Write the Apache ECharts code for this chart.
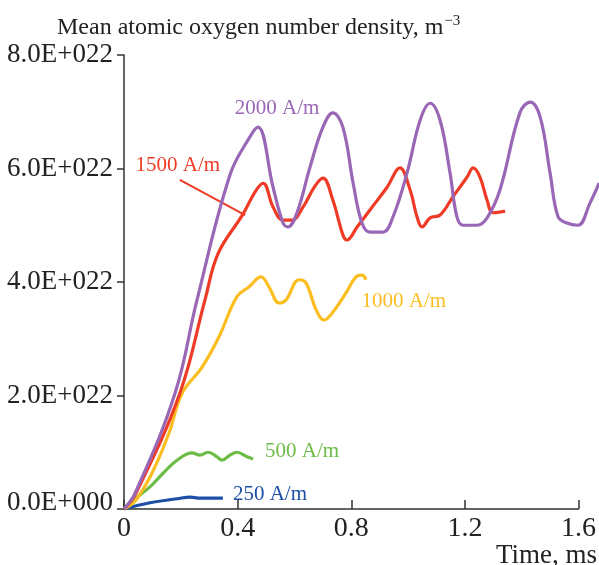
<!DOCTYPE html>
<html>
<head>
<meta charset="utf-8">
<script src="https://cdn.jsdelivr.net/npm/echarts@6/dist/echarts.min.js"></script>
<style>
  html, body { margin: 0; padding: 0; background: #fff; }
  #chart { width: 599px; height: 565px; }
</style>
</head>
<body>
<div id="chart"></div>
<script>
// Time in ms, density in units of 1e22 m^-3
const t250 = [0, 0.091, 0.186, 0.232, 0.267, 0.347];
const n250 = [0, 0.11, 0.18, 0.21, 0.19, 0.19];

const t500 = [0, 0.021, 0.091, 0.137, 0.186, 0.239, 0.267, 0.295, 0.326, 0.344, 0.372, 0.396, 0.432, 0.453];
const n500 = [0, 0.11, 0.39, 0.63, 0.86, 0.99, 0.95, 1.00, 0.92, 0.86, 0.95, 1.00, 0.92, 0.88];

const t1000 = [0, 0.042, 0.098, 0.158, 0.204, 0.274, 0.333, 0.396, 0.438, 0.481, 0.509, 0.544, 0.568, 0.614, 0.639, 0.674, 0.702, 0.730, 0.779, 0.814, 0.835, 0.849];
const n1000 = [0, 0.16, 0.63, 1.34, 2.04, 2.50, 3.03, 3.74, 3.91, 4.09, 3.91, 3.63, 3.68, 4.04, 3.98, 3.51, 3.33, 3.45, 3.81, 4.09, 4.12, 4.04];

const t1500 = [0, 0.042, 0.196, 0.284, 0.33, 0.418, 0.46, 0.488, 0.523, 0.558, 0.589, 0.628, 0.67, 0.698, 0.733, 0.768, 0.782, 0.818, 0.863, 0.923, 0.968, 1.004, 1.028, 1.046, 1.074, 1.109, 1.154, 1.204, 1.225, 1.249, 1.274, 1.295, 1.337];
const n1500 = [0, 0.28, 2.04, 3.68, 4.50, 5.20, 5.59, 5.74, 5.32, 5.09, 5.09, 5.32, 5.69, 5.83, 5.44, 4.83, 4.74, 4.97, 5.27, 5.67, 6.01, 5.62, 5.15, 4.97, 5.13, 5.18, 5.50, 5.85, 6.01, 5.85, 5.44, 5.22, 5.25];

const t2000 = [0, 0.039, 0.179, 0.256, 0.372, 0.442, 0.470, 0.523, 0.558, 0.575, 0.607, 0.653, 0.698, 0.733, 0.768, 0.804, 0.835, 0.863, 0.909, 0.944, 0.993, 1.039, 1.074, 1.109, 1.144, 1.168, 1.189, 1.239, 1.274, 1.319, 1.389, 1.425, 1.46, 1.495, 1.523, 1.554, 1.593, 1.635, 1.667];
const n2000 = [0, 0.28, 2.04, 3.68, 5.89, 6.56, 6.73, 5.67, 5.04, 4.97, 5.22, 6.03, 6.73, 6.98, 6.73, 5.74, 5.04, 4.88, 4.88, 5.15, 5.92, 6.85, 7.15, 6.85, 5.92, 5.15, 5.00, 5.00, 5.13, 5.62, 6.98, 7.17, 6.91, 5.92, 5.15, 5.04, 5.00, 5.39, 5.74];

const yTicks = [0, 2, 4, 6, 8];
const xTicks = [0, 0.4, 0.8, 1.2, 1.6];

const seriesNames = ['250 A/m', '500 A/m', '1000 A/m', '1500 A/m', '2000 A/m'];
const colors = ['#1c4fa5', '#6cbd47', '#fcbd20', '#ef3b26', '#9967b6'];
// where each curve's name is written (time, density)
const tagCoords = [[0.512, 0.264], [0.625, 1.02], [0.982, 3.65], [0.189, 6.06], [0.537, 7.066]];

function pairs(t, n) { return t.map((x, i) => [x, n[i]]); }

function sci(v) {
  const x = v * 1e22;
  if (x === 0) return '0.0E+000';
  const e = Math.floor(Math.log10(x) + 1e-9);
  const m = x / Math.pow(10, e);
  return m.toFixed(1) + 'E+' + String(e).padStart(3, '0');
}

const SERIF = '"Liberation Serif", "Times New Roman", serif';
const chart = echarts.init(document.getElementById('chart'));

// The curves live on a plot area that runs to the right edge, with the
// same pixel scale as the visible axes (which stop at 1.6 ms).
const GRID_LEFT = 124, AXIS_RIGHT = 19, W = 599;
const xMaxVisible = 1.6;
const xMaxFull = xMaxVisible * (W - GRID_LEFT) / (W - AXIS_RIGHT - GRID_LEFT);

function tag(name, coord, color) {
  return {
    symbol: 'circle', symbolSize: 2, silent: true,
    itemStyle: { color: 'rgba(0,0,0,0)' },
    label: {
      show: true, position: 'inside', formatter: name,
      color: color, fontFamily: SERIF, fontSize: 21
    },
    data: [{ coord: coord, value: 0 }]
  };
}

const lists = [[t250, n250], [t500, n500], [t1000, n1000], [t1500, n1500], [t2000, n2000]];

const series = lists.map((d, i) => ({
  name: seriesNames[i],
  type: 'line',
  xAxisIndex: 1, yAxisIndex: 1,
  data: pairs(d[0], d[1]),
  showSymbol: false,
  smooth: 0.4,
  clip: false,
  z: 2 + i,
  lineStyle: { color: colors[i], width: 3.2 },
  markPoint: tag(seriesNames[i], tagCoords[i], colors[i])
}));

// leader line from the 1500 A/m tag to its curve
series[3].markLine = {
  symbol: 'none', silent: true,
  lineStyle: { color: colors[3], width: 2, type: 'solid' },
  label: { show: false },
  emphasis: { disabled: true },
  data: [[{ coord: [0.196, 5.80] }, { coord: [0.425, 5.18] }]]
};

const axisColor = '#333';

chart.setOption({
  animation: false,
  backgroundColor: '#fff',
  title: [
    {
      text: 'Mean atomic oxygen number density, m{sup|\u22123}',
      left: 52, top: 9,
      textStyle: {
        fontFamily: SERIF, fontSize: 24, fontWeight: 'normal', color: '#222',
        rich: { sup: { fontFamily: SERIF, fontSize: 15, color: '#222', padding: [0, 0, 12, 1] } }
      }
    },
    {
      text: 'Time, ms',
      right: -3, top: 537,
      textStyle: { fontFamily: SERIF, fontSize: 27, fontWeight: 'normal', color: '#222' }
    }
  ],
  grid: [
    { left: GRID_LEFT, right: AXIS_RIGHT, top: 55, bottom: 56 },
    { left: GRID_LEFT, right: 0, top: 55, bottom: 56 }
  ],
  xAxis: [
    {
      gridIndex: 0, type: 'value', min: 0, max: xMaxVisible, interval: 0.4,
      axisLine: { lineStyle: { color: axisColor, width: 1.5 } },
      axisTick: { show: true, inside: true, length: 9, lineStyle: { color: axisColor, width: 1.5 } },
      axisLabel: { fontFamily: SERIF, fontSize: 28, color: '#222', margin: 6,
        formatter: v => (xTicks.includes(+v.toFixed(1)) ? String(+v.toFixed(1)) : '') },
      splitLine: { show: false }
    },
    {
      gridIndex: 1, type: 'value', min: 0, max: xMaxFull, show: false,
      splitLine: { show: false }
    }
  ],
  yAxis: [
    {
      gridIndex: 0, type: 'value', min: 0, max: 8, interval: 2,
      axisLine: { show: true, lineStyle: { color: axisColor, width: 1.5 } },
      axisTick: { show: true, inside: false, length: 7, lineStyle: { color: axisColor, width: 1.5 } },
      axisLabel: { fontFamily: SERIF, fontSize: 27, color: '#222', margin: 11,
        formatter: v => (yTicks.includes(v) ? (v === 0 ? '{lo|' + sci(v) + '}' : sci(v)) : ''),
        rich: { lo: { fontFamily: SERIF, fontSize: 27, color: '#222', padding: [0, 0, 12, 0] } } },
      splitLine: { show: false }
    },
    {
      gridIndex: 1, type: 'value', min: 0, max: 8, show: false,
      splitLine: { show: false }
    }
  ],
  series: series
});
</script>
</body>
</html>
